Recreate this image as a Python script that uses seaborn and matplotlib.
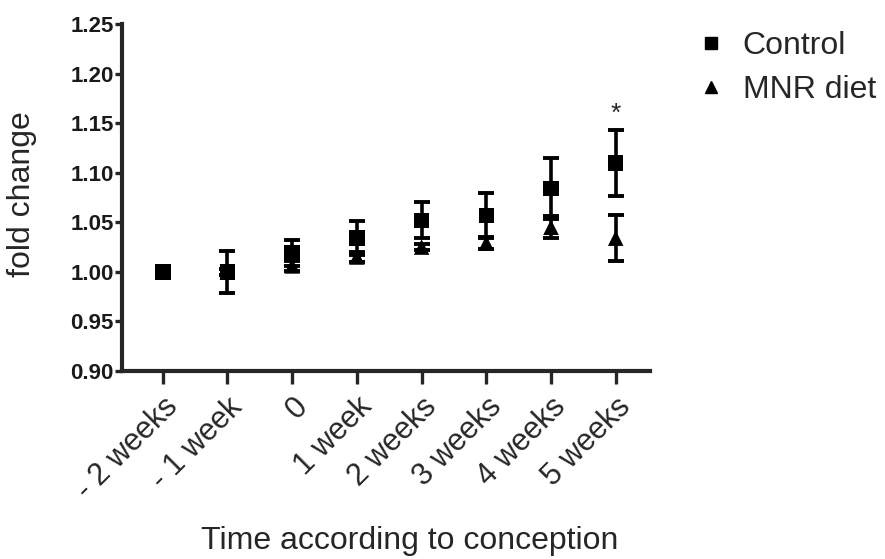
import matplotlib
matplotlib.use("Agg")
import matplotlib.pyplot as plt
import seaborn as sns
import pandas as pd
from matplotlib.lines import Line2D

categories = ["- 2 weeks", "- 1 week", "0", "1 week", "2 weeks", "3 weeks", "4 weeks", "5 weeks"]
control_mean = [1.000, 1.000, 1.019, 1.034, 1.052, 1.057, 1.084, 1.110]
control_err = [0.000, 0.021, 0.013, 0.017, 0.018, 0.023, 0.031, 0.033]
mnr_mean = [1.000, 1.000, 1.006, 1.015, 1.025, 1.029, 1.045, 1.034]
mnr_err = [0.000, 0.003, 0.005, 0.005, 0.003, 0.006, 0.011, 0.023]
groups = ["Control", "MNR diet"]
yticks = [0.90, 0.95, 1.00, 1.05, 1.10, 1.15, 1.20, 1.25]

sns.set_style("ticks")
plt.rcParams['font.family'] = ['Liberation Sans', 'DejaVu Sans']

df = pd.DataFrame({
    "time": categories * 2,
    "x": list(range(len(categories))) * 2,
    "value": control_mean + mnr_mean,
    "err": control_err + mnr_err,
    "group": [groups[0]] * len(categories) + [groups[1]] * len(categories),
})

fig = plt.figure(figsize=(8.85, 5.59), dpi=100)
ax = fig.add_axes([122/885, 1-371/559, (650-122)/885, (371-24)/559])

for g in groups:
    sub = df[df.group == g]
    ax.errorbar(sub["x"], sub["value"], yerr=sub["err"], fmt="none",
                ecolor="black", elinewidth=2.6, capsize=6, capthick=2.8, zorder=2)

sns.scatterplot(data=df, x="x", y="value", style="group", markers={"Control": "s", "MNR diet": "^"},
                color="black", s=125, edgecolor="black", linewidth=0, ax=ax, zorder=3, legend=False)

# significance marker
ax.text(7, control_mean[7] + control_err[7] + 0.009, "*", ha="center", va="baseline", fontsize=19)

ax.set_xlim(-0.63, 7.53)
ax.set_ylim(0.90, 1.25)
ax.set_yticks(yticks)
ax.set_yticklabels([f"{v:.2f}" for v in yticks], fontsize=16, fontweight="bold", color="#1a1a1a")
ax.set_xticks(range(len(categories)))
ax.set_xticklabels(categories, rotation=45, ha="right", rotation_mode="anchor", fontsize=22)
ax.set_xlabel("Time according to conception", fontsize=23)
ax.set_ylabel("fold change", fontsize=23)
ax.xaxis.set_label_coords((410-122)/528, -0.447)
ax.yaxis.set_label_coords((37-122)/528, 0.511)

sns.despine(ax=ax)
for s in ["left", "bottom"]:
    ax.spines[s].set_linewidth(3)
ax.tick_params(axis="y", length=5, width=2.4, pad=1)
ax.tick_params(axis="x", length=9, width=2.4, pad=6)

handles = [Line2D([], [], marker="s", color="black", linestyle="none", markersize=8.5),
           Line2D([], [], marker="^", color="black", linestyle="none", markersize=8.5)]
fig.legend(handles, groups, loc="upper left", bbox_to_anchor=(698/885, 1-31/559), frameon=False,
           fontsize=23, handlelength=0.8, handletextpad=0.6, labelspacing=0.45,
           borderpad=0, borderaxespad=0)

fig.savefig("out.png", dpi=100)
